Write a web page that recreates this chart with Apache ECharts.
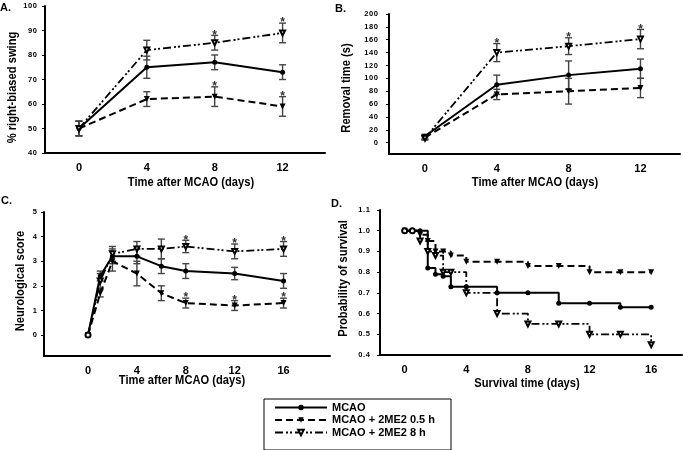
<!DOCTYPE html>
<html><head><meta charset="utf-8">
<script src="https://cdn.jsdelivr.net/npm/echarts@6/dist/echarts.min.js"></script>
<style>html,body{margin:0;padding:0;background:#fff}#c{width:683px;height:450px}</style>
</head><body><div id="c"></div>
<script>
// ---------- DATA ----------
const seriesNames = ['MCAO', 'MCAO + 2ME2 0.5 h', 'MCAO + 2ME2 8 h'];
// Panel A: % right-biased swing
const xA = [0, 4, 8, 12];
const aMcao = [50, 75, 77, 73];      const aMcaoErr = [3, 4.5, 3, 3];
const aLow  = [50, 62, 63, 59];      const aLowErr  = [3, 3, 4, 4];
const aHigh = [50, 82, 85, 89];      const aHighErr = [3, 4, 3, 4];
const aStarsLow = [8, 12];           const aStarsHigh = [8, 12];
const aYTicks = [40, 50, 60, 70, 80, 90, 100];
const aXTicks = [0, 4, 8, 12];
// Panel B: removal time (s)
const xB = [0, 4, 8, 12];
const bMcao = [10, 90, 105, 115];    const bMcaoErr = [3, 15, 22, 15];
const bLow  = [8, 75, 80, 85];       const bLowErr  = [3, 8, 20, 15];
const bHigh = [7, 140, 150, 161];    const bHighErr = [3, 14, 13, 15];
const bStarsHigh = [4, 8, 12];
const bYTicks = [0, 20, 40, 60, 80, 100, 120, 140, 160, 180, 200];
const bXTicks = [0, 4, 8, 12];
// Panel C: neurological score
const xC = [0, 1, 2, 4, 6, 8, 12, 16];
const cMcao = [0, 2.4, 3.2, 3.2, 2.8, 2.6, 2.5, 2.2];  const cMcaoErr = [0, 0.2, 0.3, 0.3, 0.3, 0.3, 0.25, 0.3];
const cLow  = [0, 1.7, 3.0, 2.5, 1.7, 1.3, 1.2, 1.3];  const cLowErr  = [0, 0.15, 0.4, 0.5, 0.3, 0.2, 0.2, 0.2];
const cHigh = [0, 2.2, 3.3, 3.5, 3.5, 3.6, 3.4, 3.5];  const cHighErr = [0, 0.3, 0.3, 0.3, 0.4, 0.25, 0.3, 0.3];
const cStarsLow = [8, 12, 16];       const cStarsHigh = [8, 12, 16];
const cYTicks = [0, 1, 2, 3, 4, 5];
const cXTicks = [0, 4, 8, 12, 16];
// Panel D: Kaplan-Meier survival
const dMcaoX = [0, 1, 1.5, 2, 2.5, 3, 4, 6, 8, 10, 12, 14, 16];
const dMcaoY = [1.0, 1.0, 0.82, 0.79, 0.78, 0.73, 0.73, 0.70, 0.70, 0.65, 0.65, 0.63, 0.63];
const dLowX  = [0, 1, 1.5, 2, 2.5, 3, 4, 6, 8, 10, 12, 14, 16];
const dLowY  = [1.0, 0.98, 0.95, 0.90, 0.90, 0.88, 0.85, 0.85, 0.83, 0.83, 0.80, 0.80, 0.80];
const dHighX = [0, 0.5, 1, 1.5, 2, 2.5, 3, 4, 6, 8, 10, 12, 14, 16];
const dHighY = [1.0, 1.0, 0.95, 0.90, 0.88, 0.80, 0.80, 0.70, 0.60, 0.55, 0.55, 0.50, 0.50, 0.45];
const dYTicks = [0.4, 0.5, 0.6, 0.7, 0.8, 0.9, 1.0, 1.1];
const dXTicks = [0, 4, 8, 12, 16];

// ---------- STYLES / LAYOUT ----------
const FONT = 'Liberation Sans';
const styles = [
  {lineStyle: {color: '#000', width: 2, type: 'solid'}, symbol: 'circle', symbolSize: 5, symbolRotate: 0, itemStyle: {color: '#000'}},
  {lineStyle: {color: '#000', width: 2, type: [7, 4]}, symbol: 'triangle', symbolSize: 6, symbolRotate: 180, itemStyle: {color: '#000'}},
  {lineStyle: {color: '#000', width: 1.8, type: [8, 3, 2, 2, 2, 3]}, symbol: 'emptyTriangle', symbolSize: 5, symbolRotate: 180, itemStyle: {color: '#000', borderWidth: 1}}
];

const grids = [
  {left: 45, top: 6, width: 280, height: 147},
  {left: 389, top: 14, width: 291, height: 140},
  {left: 44, top: 212, width: 286, height: 144},
  {left: 380, top: 210, width: 302, height: 145}
];
const xRanges = [[-2, 14.5], [-2, 14.2], [-3.6, 19.8], [-1.6, 18]];
const yRanges = [[40, 100], [-17.6, 200], [-0.85, 5], [0.4, 1.1]];
const xTickSets = [aXTicks, bXTicks, cXTicks, dXTicks];
const yTickSets = [aYTicks, bYTicks, cYTicks, dYTicks];
const yLabelMargins = [8, 11, 7, 10];
const xNames = ['Time after MCAO (days)', 'Time after MCAO (days)', 'Time after MCAO (days)', 'Survival time (days)'];
const yNames = ['% right-biased swing', 'Removal time (s)', 'Neurological score', 'Probability of survival'];
const xTitlePos = [[191, 182.5], [535, 183], [182, 381], [527, 384]];
const yTitlePos = [[12.5, 87.5], [346.5, 88], [21, 281], [344, 278.5]];

const xAxes = grids.map((g, i) => ({
  type: 'value', gridIndex: i, min: xRanges[i][0], max: xRanges[i][1],
  axisLine: {show: true, onZero: false, lineStyle: {color: '#000', width: 2}},
  axisTick: {show: false},
  splitLine: {show: false},
  axisLabel: {customValues: xTickSets[i], color: '#000', fontFamily: FONT, fontWeight: 'bold', fontSize: 11, margin: 9}
}));
const yAxes = grids.map((g, i) => ({
  type: 'value', gridIndex: i, min: yRanges[i][0], max: yRanges[i][1],
  axisLine: {show: true, onZero: false, lineStyle: {color: '#000', width: 2}},
  axisTick: {show: true, customValues: yTickSets[i], length: 3, lineStyle: {color: '#000', width: 1}},
  splitLine: {show: false},
  axisLabel: {customValues: yTickSets[i], color: '#000', fontFamily: FONT, fontWeight: 'bold', fontSize: 7.5, margin: yLabelMargins[i],
    formatter: v => (i === 3 ? v.toFixed(1) : String(v)).split('').join('\u200A')}
}));

const series = [];
function addLine(panel, k, xs, ys, step, firstOpenCircles) {
  const st = styles[k];
  series.push({
    type: 'line', name: seriesNames[k], xAxisIndex: panel, yAxisIndex: panel,
    data: xs.map((x, j) => (j < (firstOpenCircles || 0))
      ? {value: [x, ys[j]], symbol: 'emptyCircle', symbolSize: 5, symbolRotate: 0}
      : [x, ys[j]]),
    step: step || false,
    lineStyle: st.lineStyle, symbol: st.symbol, symbolSize: st.symbolSize, symbolRotate: st.symbolRotate,
    itemStyle: st.itemStyle, showSymbol: true, animation: false, z: 3 + k
  });
}
function addErr(panel, xs, ys, errs) {
  series.push({
    type: 'custom', name: 'err' + panel + '_' + series.length, xAxisIndex: panel, yAxisIndex: panel,
    data: xs.map((x, j) => [x, ys[j] - errs[j], ys[j] + errs[j]]).filter(d => d[2] > d[1]),
    renderItem: (params, api) => {
      const lo = api.coord([api.value(0), api.value(1)]);
      const hi = api.coord([api.value(0), api.value(2)]);
      const w = 3.5, st = {stroke: '#444', lineWidth: 1.4};
      return {type: 'group', children: [
        {type: 'line', shape: {x1: lo[0], y1: lo[1], x2: hi[0], y2: hi[1]}, style: st},
        {type: 'line', shape: {x1: lo[0] - w, y1: lo[1], x2: lo[0] + w, y2: lo[1]}, style: st},
        {type: 'line', shape: {x1: hi[0] - w, y1: hi[1], x2: hi[0] + w, y2: hi[1]}, style: st}
      ]};
    },
    animation: false, z: 2, silent: true
  });
}
function addStars(panel, starXs, xs, ys, errs) {
  series.push({
    type: 'custom', name: 'stars' + panel + '_' + series.length, xAxisIndex: panel, yAxisIndex: panel,
    data: starXs.map(sx => { const j = xs.indexOf(sx); return [sx, ys[j] + errs[j]]; }),
    renderItem: (params, api) => {
      const p = api.coord([api.value(0), api.value(1)]);
      return {type: 'text', style: {text: '*', x: p[0], y: p[1] + 6, fill: '#333', font: 'bold 12px ' + FONT, align: 'center', verticalAlign: 'bottom'}};
    },
    animation: false, z: 6, silent: true
  });
}

// Panel A
addErr(0, xA, aMcao, aMcaoErr); addErr(0, xA, aLow, aLowErr); addErr(0, xA, aHigh, aHighErr);
addLine(0, 0, xA, aMcao); addLine(0, 1, xA, aLow); addLine(0, 2, xA, aHigh);
addStars(0, aStarsLow, xA, aLow, aLowErr); addStars(0, aStarsHigh, xA, aHigh, aHighErr);
// Panel B
addErr(1, xB, bMcao, bMcaoErr); addErr(1, xB, bLow, bLowErr); addErr(1, xB, bHigh, bHighErr);
addLine(1, 0, xB, bMcao); addLine(1, 1, xB, bLow); addLine(1, 2, xB, bHigh);
addStars(1, bStarsHigh, xB, bHigh, bHighErr);
// Panel C
addErr(2, xC, cMcao, cMcaoErr); addErr(2, xC, cLow, cLowErr); addErr(2, xC, cHigh, cHighErr);
addLine(2, 0, xC, cMcao); addLine(2, 1, xC, cLow); addLine(2, 2, xC, cHigh, false, 1);
addStars(2, cStarsLow, xC, cLow, cLowErr); addStars(2, cStarsHigh, xC, cHigh, cHighErr);
// Panel D
addLine(3, 0, dMcaoX, dMcaoY, 'end'); addLine(3, 1, dLowX, dLowY, 'end'); addLine(3, 2, dHighX, dHighY, 'end', 2);

const letters = [['A.', 0, 2], ['B.', 335, 3], ['C.', 1, 195], ['D.', 331, 198]];
const graphics = [];
letters.forEach(l => graphics.push({type: 'text', x: l[1], y: l[2], style: {text: l[0], fill: '#000', font: 'bold 11px ' + FONT}}));
xNames.forEach((n, i) => graphics.push({type: 'text', x: xTitlePos[i][0], y: xTitlePos[i][1], scaleX: 0.93,
  style: {text: n, fill: '#000', font: 'bold 12px ' + FONT, align: 'center', verticalAlign: 'middle'}}));
yNames.forEach((n, i) => graphics.push({type: 'text', x: yTitlePos[i][0], y: yTitlePos[i][1], rotation: Math.PI / 2, scaleX: 0.93,
  style: {text: n, fill: '#000', font: 'bold 12px ' + FONT, align: 'center', verticalAlign: 'middle'}}));

const chart = echarts.init(document.getElementById('c'), null, {renderer: 'canvas'});
chart.setOption({
  animation: false,
  backgroundColor: '#fff',
  grid: grids,
  xAxis: xAxes,
  yAxis: yAxes,
  series: series,
  legend: {
    data: seriesNames, orient: 'vertical', left: 264, top: 399, height: 80,
    borderColor: '#000', borderWidth: 1, padding: [3, 16, 12, 10],
    itemWidth: 52, itemHeight: 7, itemGap: 1.5,
    textStyle: {color: '#000', fontFamily: FONT, fontWeight: 'bold', fontSize: 11, lineHeight: 11},
    selectedMode: false
  },
  graphic: graphics
});
</script></body></html>
